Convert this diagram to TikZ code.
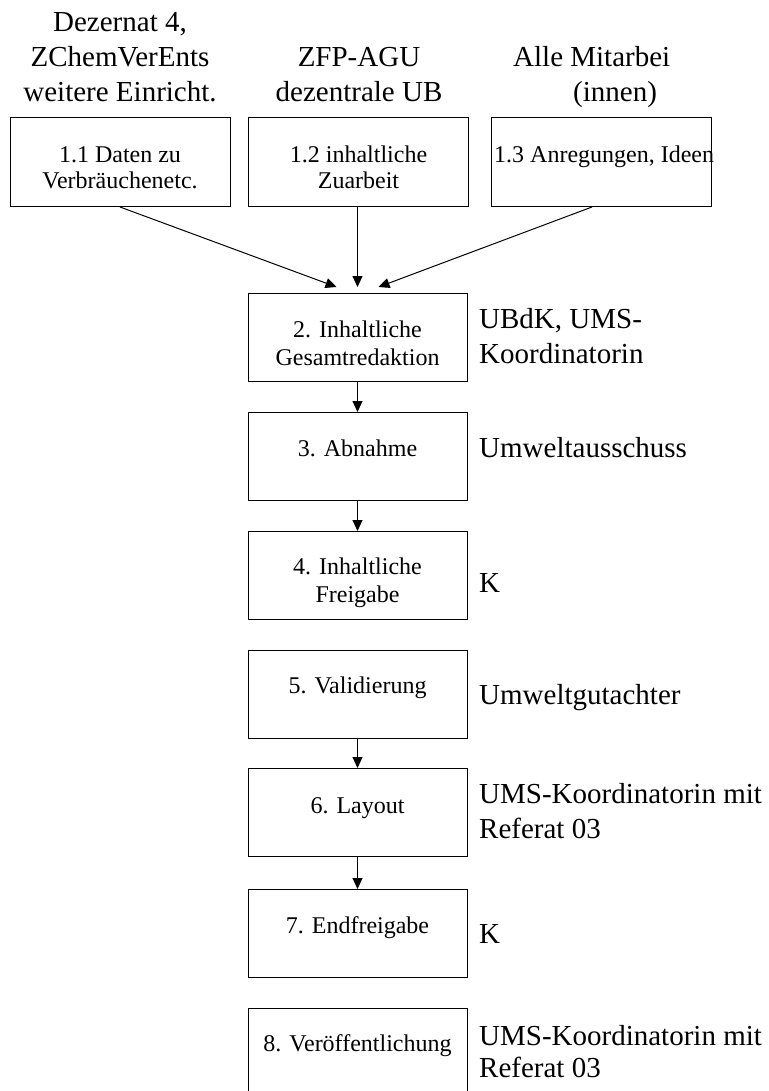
\documentclass[tikz,border=0pt]{standalone}
\usepackage{fontspec}
\setmainfont{Liberation Serif}
\usetikzlibrary{arrows.meta}
\begin{document}
\begin{tikzpicture}[x=1pt,y=-1pt,
  box/.style={draw, line width=1pt, minimum width=219pt, minimum height=88pt, inner sep=0pt, anchor=north},
  topbox/.style={draw, line width=1pt, minimum width=220pt, minimum height=89pt, inner sep=0pt, anchor=north},
  btxt/.style={font=\fontsize{24}{27}\selectfont, align=center, anchor=base, inner sep=0pt},
  lbl/.style={font=\fontsize{29}{35}\selectfont, align=left, anchor=base west, inner sep=0pt},
  head/.style={font=\fontsize{29}{35}\selectfont, align=center, anchor=base, inner sep=0pt},
  arr/.style={-{Triangle[length=11pt,width=10pt]}, line width=1pt}]
\useasboundingbox (0,0) rectangle (768,1091);
% top headings (base = last line)
\node[head] (h1) at (120,102) {Dezernat 4,\\ZChemVerEnts\\weitere Einricht.};
\node[head] (h2) at (359,102) {ZFP-AGU\\dezentrale UB};
\node[head, align=left, anchor=base west] (h3) at (513,102) {Alle Mitarbei\\\hspace*{60pt}(innen)};
% top boxes
\node[topbox] (b11) at (120,117) {};
\node[topbox] (b12) at (358.5,117) {};
\node[topbox] (b13) at (601,117) {};
\node[btxt, font=\fontsize{24}{26}\selectfont] (t11) at ([yshift=-72pt]b11.north) {1.1 Daten zu\\Verbräuchenetc.};
\node[btxt, font=\fontsize{24}{26}\selectfont] (t12) at ([yshift=-72pt]b12.north) {1.2 inhaltliche\\Zuarbeit};
\node[btxt, anchor=base west] (t13) at (494,163) {1.3 Anregungen, Ideen};
% column boxes
\node[box] (b2) at (357.5,293) {};
\node[box] (b3) at (357.5,412) {};
\node[box] (b4) at (357.5,531) {};
\node[box] (b5) at (357.5,650) {};
\node[box] (b6) at (357.5,768) {};
\node[box] (b7) at (357.5,889) {};
\node[box] (b8) at (357.5,1008) {};
\node[btxt, font=\fontsize{24}{28}\selectfont] (t2) at ([yshift=-72pt]b2.north) {2. Inhaltliche\\Gesamtredaktion};
\node[btxt] (t3) at ([yshift=-44pt]b3.north) {3. Abnahme};
\node[btxt, font=\fontsize{24}{28}\selectfont] (t4) at ([yshift=-71pt]b4.north) {4. Inhaltliche\\Freigabe};
\node[btxt] (t5) at ([yshift=-43pt]b5.north) {5. Validierung};
\node[btxt] (t6) at ([yshift=-45pt]b6.north) {6. Layout};
\node[btxt] (t7) at ([yshift=-44pt]b7.north) {7. Endfreigabe};
\node[btxt] (t8) at ([yshift=-43pt]b8.north) {8. Veröffentlichung};
% right labels (base = last line)
\node[lbl] (l2) at (479,363) {UBdK, UMS-\\Koordinatorin};
\node[lbl] (l3) at (479,457) {Umweltausschuss};
\node[lbl] (l4) at (479,592) {K};
\node[lbl] (l5) at (479,704) {Umweltgutachter};
\node[lbl] (l6) at (479,838) {UMS-Koordinatorin mit\\Referat 03};
\node[lbl] (l7) at (479,943) {K};
\node[lbl, font=\fontsize{29}{32}\selectfont] (l8) at (479,1077) {UMS-Koordinatorin mit\\Referat 03};
% arrows
\draw[arr] (b11.south) -- ([xshift=-21pt,yshift=6pt]b2.north);
\draw[arr] (b12.south -| b2.north) -- ([yshift=6pt]b2.north);
\draw[arr] ([xshift=-9pt]b13.south) -- ([xshift=21pt,yshift=6pt]b2.north);
\draw[arr] (b2.south) -- (b3.north);
\draw[arr] (b3.south) -- (b4.north);
\draw[arr] (b5.south) -- (b6.north);
\draw[arr] (b6.south) -- (b7.north);
\end{tikzpicture}
\end{document}
